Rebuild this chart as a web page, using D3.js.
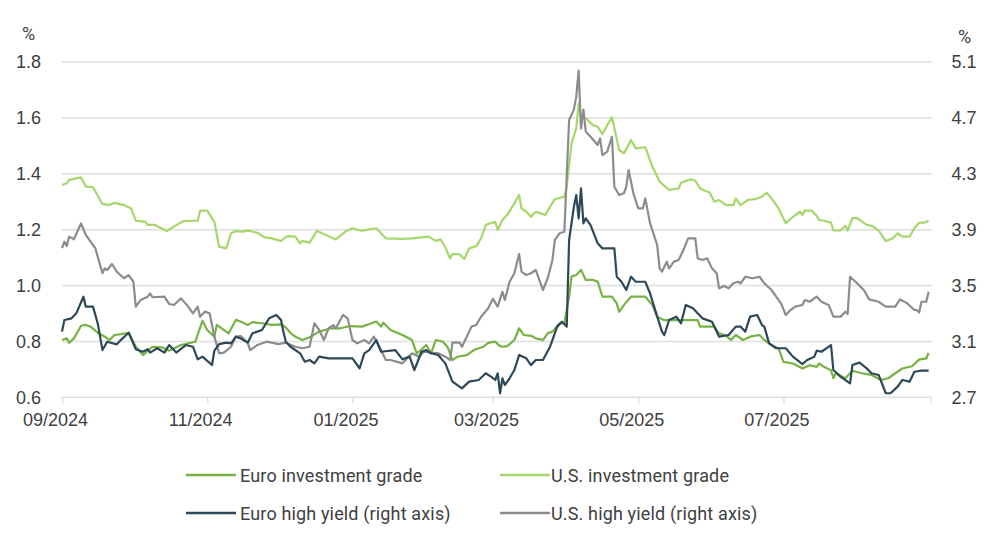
<!DOCTYPE html>
<html>
<head>
<meta charset="utf-8">
<script src="https://cdn.jsdelivr.net/npm/d3@7"></script>
<style>
  html, body { margin: 0; padding: 0; background: #ffffff; }
  svg { display: block; font-family: Roboto, "Open Sans", sans-serif; }
</style>
</head>
<body>
<svg id="chart" width="1000" height="547"></svg>
<script>
// ---------------- DATA ----------------
// Day offsets counted from 1 Sep 2024
const startDate = new Date(2024, 8, 1);
const endDate = new Date(2025, 8, 1);

const leftTicks = [0.6, 0.8, 1.0, 1.2, 1.4, 1.6, 1.8];
const rightTicks = [2.7, 3.1, 3.5, 3.9, 4.3, 4.7, 5.1];
const xTickLabels = ["09/2024", "11/2024", "01/2025", "03/2025", "05/2025", "07/2025", ""];

const seriesNames = ["Euro investment grade", "U.S. investment grade", "Euro high yield (right axis)", "U.S. high yield (right axis)"];

const usIGDays = [0,2,3,8,10,13,17,20,22,26,29,31,35,36,39,44,47,51,57,58,61,64,66,69,71,73,76,78,82,85,88,92,94,95,98,100,101,104,107,110,115,119,122,126,129,132,136,143,147,154,157,159,161,163,164,167,169,171,174,176,178,180,182,183,185,187,190,192,193,195,197,199,203,205,207,211,212,214,216,217,218,220,223,225,227,229,231,234,236,239,241,245,248,251,255,259,260,264,266,268,270,272,274,276,279,282,283,285,288,291,294,296,298,301,304,307,310,311,312,315,317,318,320,323,324,327,329,330,332,334,338,340,343,346,349,351,353,356,358,360,362,364];
const usIGValues = [1.360,1.366,1.378,1.387,1.354,1.352,1.292,1.288,1.296,1.288,1.276,1.232,1.228,1.217,1.217,1.195,1.211,1.231,1.232,1.268,1.268,1.228,1.139,1.133,1.187,1.195,1.193,1.197,1.189,1.173,1.169,1.160,1.173,1.177,1.175,1.151,1.160,1.153,1.196,1.184,1.165,1.193,1.205,1.196,1.201,1.205,1.169,1.167,1.169,1.175,1.160,1.165,1.137,1.097,1.113,1.112,1.095,1.133,1.141,1.169,1.217,1.223,1.228,1.199,1.235,1.253,1.294,1.324,1.276,1.264,1.246,1.264,1.253,1.282,1.309,1.318,1.354,1.509,1.563,1.652,1.604,1.599,1.574,1.568,1.542,1.574,1.602,1.485,1.473,1.521,1.491,1.495,1.425,1.372,1.342,1.348,1.368,1.380,1.375,1.348,1.339,1.333,1.300,1.306,1.288,1.288,1.312,1.288,1.306,1.309,1.318,1.332,1.312,1.276,1.223,1.246,1.264,1.253,1.268,1.268,1.249,1.235,1.232,1.225,1.197,1.197,1.214,1.197,1.241,1.241,1.217,1.214,1.197,1.159,1.169,1.187,1.175,1.175,1.205,1.225,1.225,1.232];

const euroIGDays = [0,2,3,5,8,10,12,15,18,20,22,25,28,31,34,38,42,45,50,56,59,61,64,65,70,73,75,78,80,84,88,92,94,96,98,101,104,108,113,117,121,126,130,132,134,135,138,143,147,149,151,153,155,157,160,162,164,166,170,173,177,179,182,184,185,187,190,192,194,197,199,202,204,206,209,211,213,214,216,218,220,223,225,227,231,233,234,236,239,245,248,250,253,262,267,268,274,276,279,281,283,286,289,293,295,298,301,303,307,311,314,317,318,320,323,324,325,329,332,336,340,344,347,350,353,357,360,363,364];
const euroIGValues = [0.805,0.811,0.795,0.811,0.856,0.859,0.853,0.831,0.817,0.805,0.823,0.826,0.831,0.781,0.751,0.781,0.779,0.767,0.787,0.799,0.874,0.841,0.817,0.859,0.829,0.877,0.871,0.859,0.869,0.865,0.859,0.861,0.850,0.830,0.817,0.805,0.815,0.835,0.847,0.847,0.855,0.853,0.865,0.871,0.853,0.867,0.841,0.823,0.805,0.757,0.771,0.787,0.757,0.805,0.799,0.779,0.733,0.745,0.751,0.769,0.781,0.795,0.799,0.783,0.781,0.783,0.805,0.847,0.823,0.820,0.811,0.805,0.829,0.835,0.865,0.865,0.960,1.032,1.038,1.056,1.020,1.020,1.014,0.960,0.960,0.936,0.906,0.930,0.960,0.960,0.930,0.888,0.876,0.876,0.876,0.853,0.853,0.829,0.820,0.805,0.823,0.805,0.817,0.823,0.805,0.787,0.775,0.727,0.721,0.703,0.715,0.709,0.721,0.709,0.697,0.668,0.686,0.668,0.695,0.686,0.680,0.662,0.668,0.686,0.703,0.711,0.735,0.739,0.759];

const euroHYDays = [0,1,4,6,9,10,13,15,17,19,23,25,28,31,34,36,37,40,43,45,48,52,55,57,59,63,64,66,69,71,73,75,78,80,84,87,90,92,93,94,96,100,102,104,106,108,112,122,125,127,129,132,134,140,143,146,148,151,153,155,158,161,164,168,171,175,178,180,182,183,184,185,186,188,190,192,195,197,199,202,205,208,210,212,213,215,216,217,218,219,220,222,225,227,232,233,235,237,239,241,245,247,250,252,253,255,258,260,262,265,269,273,276,280,283,285,287,289,292,294,295,297,300,304,307,311,313,316,317,319,323,324,327,331,332,335,338,340,343,346,348,351,353,356,358,361,364];
const euroHYValues = [3.170,3.253,3.265,3.301,3.420,3.349,3.349,3.230,3.038,3.098,3.079,3.115,3.162,3.044,3.026,3.044,3.020,3.051,3.020,3.074,3.020,3.074,3.062,2.972,2.991,2.931,3.034,3.081,3.091,3.086,3.134,3.122,3.091,3.158,3.182,3.265,3.289,3.253,3.170,3.098,3.062,3.015,2.955,2.967,2.943,2.991,2.979,2.979,2.907,3.015,3.038,3.110,3.026,3.038,2.972,2.991,2.895,3.026,3.038,3.015,3.003,2.943,2.812,2.764,2.812,2.824,2.872,2.850,2.824,2.872,2.729,2.836,2.788,2.836,2.895,3.003,2.979,2.931,2.967,2.967,3.062,3.206,3.241,3.206,3.826,4.064,4.148,3.981,4.196,3.945,3.981,3.933,3.802,3.766,3.766,3.563,3.527,3.468,3.563,3.527,3.527,3.444,3.277,3.170,3.146,3.253,3.277,3.230,3.361,3.337,3.265,3.241,3.134,3.146,3.206,3.206,3.170,3.277,3.289,3.217,3.206,3.086,3.051,3.051,2.991,2.938,2.967,2.991,3.034,3.026,3.074,2.895,2.848,2.800,2.931,2.948,2.907,2.872,2.860,2.729,2.729,2.776,2.824,2.812,2.883,2.891,2.891];

const usHYDays = [0,1,2,3,5,8,10,12,14,17,18,19,21,23,26,28,30,31,33,36,37,38,43,45,47,50,53,55,57,58,60,62,64,66,68,71,73,75,78,79,82,86,91,94,98,101,104,106,108,110,112,114,115,118,120,122,124,127,129,131,134,136,138,143,145,147,150,152,158,161,163,164,167,168,170,172,174,176,179,181,183,185,186,188,190,192,193,195,197,199,202,204,206,207,209,211,213,215,216,217,218,219,220,222,225,226,227,229,231,232,234,236,237,238,240,242,244,245,247,250,251,252,254,255,257,259,261,263,266,267,269,271,273,275,276,278,280,282,284,285,287,290,293,295,298,302,304,306,308,311,312,314,317,319,322,324,327,329,330,331,334,337,339,343,346,350,352,355,358,359,360,361,363,364];
const usHYValues = [3.767,3.814,3.784,3.850,3.831,3.945,3.862,3.814,3.767,3.588,3.623,3.611,3.654,3.599,3.552,3.575,3.527,3.349,3.396,3.420,3.444,3.416,3.420,3.368,3.361,3.408,3.349,3.301,3.349,3.277,3.313,3.301,3.134,3.015,3.020,3.062,3.134,3.139,3.091,3.038,3.074,3.098,3.081,3.091,3.062,3.051,3.062,3.230,3.182,3.110,3.194,3.217,3.194,3.289,3.265,3.110,3.086,3.110,3.086,3.134,3.038,2.967,2.967,2.943,2.979,3.015,2.991,3.026,3.015,2.991,2.967,3.091,3.091,3.062,3.134,3.206,3.217,3.277,3.337,3.405,3.349,3.456,3.396,3.527,3.588,3.726,3.599,3.575,3.588,3.611,3.468,3.552,3.683,3.826,3.874,3.885,4.685,4.759,4.852,5.038,4.625,4.759,4.601,4.565,4.506,4.554,4.434,4.458,4.565,4.207,4.148,4.160,4.207,4.327,4.160,4.053,4.053,4.124,3.945,3.790,3.623,3.599,3.671,3.623,3.671,3.683,3.754,3.838,3.838,3.695,3.683,3.695,3.623,3.588,3.480,3.497,3.480,3.516,3.527,3.516,3.563,3.552,3.563,3.516,3.468,3.373,3.289,3.325,3.349,3.361,3.396,3.384,3.420,3.384,3.361,3.277,3.277,3.313,3.296,3.563,3.516,3.463,3.401,3.384,3.349,3.349,3.401,3.373,3.325,3.325,3.306,3.384,3.384,3.456];

// ---------------- CHART ----------------
const svg = d3.select("#chart");
const mLeft = 62, mRight = 931, mTop = 62, mBottom = 397.3;

const x = d3.scaleTime().domain([startDate, endDate]).range([mLeft, mRight]);
const yL = d3.scaleLinear().domain([0.6, 1.8]).range([mBottom, mTop]);
const yR = d3.scaleLinear().domain([2.7, 5.1]).range([mBottom, mTop]);

const gridColor = "#dedede";
const textColor = "#404040";
const fontSize = "18px";

// gridlines
svg.append("g")
  .selectAll("line")
  .data(leftTicks)
  .join("line")
  .attr("x1", mLeft).attr("x2", mRight + 1)
  .attr("y1", d => yL(d)).attr("y2", d => yL(d))
  .attr("stroke", gridColor)
  .attr("stroke-width", 1.5);

// left axis labels
const leftAxis = d3.axisLeft(yL).tickValues(leftTicks).tickFormat(d3.format(".1f")).tickSize(0).tickPadding(0);
const gl = svg.append("g").attr("transform", `translate(28.5,0)`).call(leftAxis);
gl.select(".domain").remove();
gl.selectAll("text").attr("fill", textColor).style("font-size", fontSize).attr("text-anchor", "middle").attr("x", 0);

// right axis labels
const rightAxis = d3.axisRight(yR).tickValues(rightTicks).tickFormat(d3.format(".1f")).tickSize(0).tickPadding(0);
const gr = svg.append("g").attr("transform", `translate(964,0)`).call(rightAxis);
gr.select(".domain").remove();
gr.selectAll("text").attr("fill", textColor).style("font-size", fontSize).attr("text-anchor", "middle").attr("x", 0);

// unit labels
svg.append("text").attr("x", 28.5).attr("y", 40).attr("text-anchor", "middle")
  .attr("fill", textColor).style("font-size", fontSize).text("%");
svg.append("text").attr("x", 964.5).attr("y", 43).attr("text-anchor", "middle")
  .attr("fill", textColor).style("font-size", fontSize).text("%");

// x axis
const xTickDates = d3.timeMonth.every(2).range(startDate, d3.timeDay.offset(endDate, 1));
const xAxis = d3.axisBottom(x).tickValues(xTickDates)
  .tickFormat((d, i) => xTickLabels[i])
  .tickSize(6).tickPadding(10);
const gx = svg.append("g").attr("transform", `translate(0,${mBottom})`).call(xAxis);
gx.select(".domain").remove();
gx.selectAll("line").attr("stroke", gridColor).attr("stroke-width", 1.5);
gx.selectAll("text").attr("fill", textColor).style("font-size", fontSize).attr("dx", "-7");

// series
const toPoints = (days, vals) => days.map((d, i) => ({ date: d3.timeDay.offset(startDate, d), value: vals[i] }));

const series = [
  { name: seriesNames[1], pts: toPoints(usIGDays, usIGValues), y: yL, color: "#a6d76b" },
  { name: seriesNames[0], pts: toPoints(euroIGDays, euroIGValues), y: yL, color: "#77b244" },
  { name: seriesNames[3], pts: toPoints(usHYDays, usHYValues), y: yR, color: "#8c8c8c" },
  { name: seriesNames[2], pts: toPoints(euroHYDays, euroHYValues), y: yR, color: "#2d4858" }
];

series.forEach(s => {
  const line = d3.line().x(d => x(d.date)).y(d => s.y(d.value)).curve(d3.curveLinear);
  svg.append("path")
    .datum(s.pts)
    .attr("d", line)
    .attr("fill", "none")
    .attr("stroke", s.color)
    .attr("stroke-width", 2.2)
    .attr("stroke-linejoin", "round");
});

// legend
const legendItems = [
  { name: seriesNames[0], color: "#77b244", col: 0, row: 0 },
  { name: seriesNames[1], color: "#a6d76b", col: 1, row: 0 },
  { name: seriesNames[2], color: "#2d4858", col: 0, row: 1 },
  { name: seriesNames[3], color: "#8c8c8c", col: 1, row: 1 }
];
const legX = [186, 500], legY = [475, 513];
const lg = svg.append("g");
legendItems.forEach(it => {
  const gx0 = legX[it.col], gy0 = legY[it.row];
  lg.append("line").attr("x1", gx0).attr("x2", gx0 + 50).attr("y1", gy0).attr("y2", gy0)
    .attr("stroke", it.color).attr("stroke-width", 2.5);
  lg.append("text").attr("x", gx0 + (it.col === 0 ? 54 : 51)).attr("y", gy0 + 6.5)
    .attr("fill", textColor).style("font-size", fontSize).style("letter-spacing", "0.15px").text(it.name);
});
</script>
</body>
</html>
